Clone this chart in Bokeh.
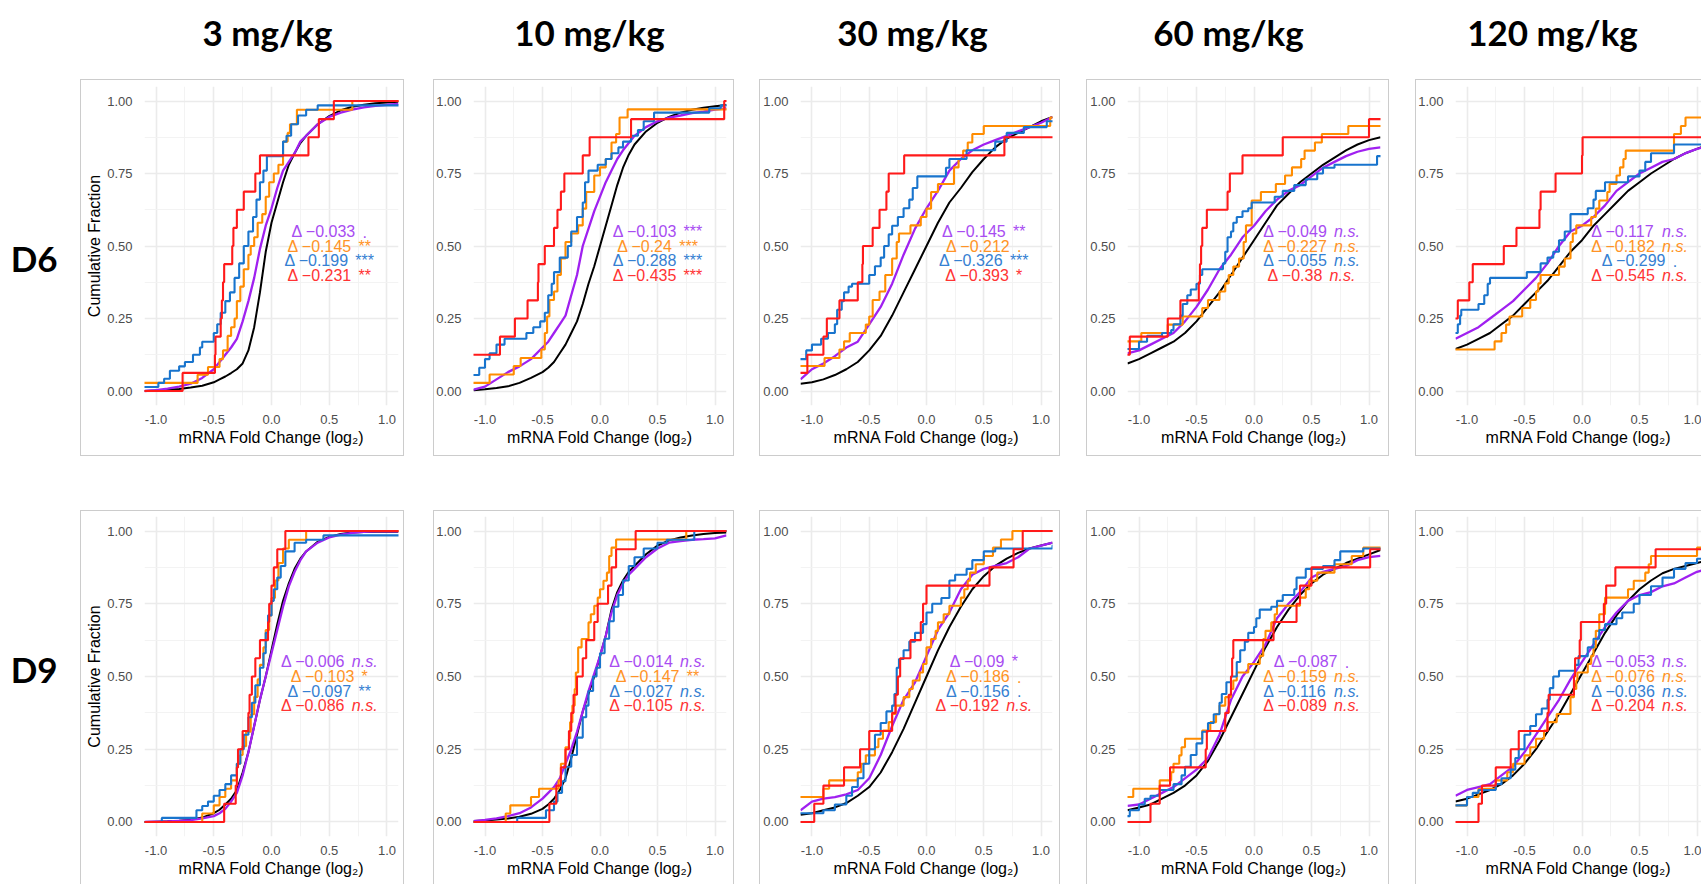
from bokeh.plotting import figure
from bokeh.models import Range1d, FixedTicker, PrintfTickFormatter, ColumnDataSource, Spacer
from bokeh.layouts import row, column
from bokeh.core.properties import value
from bokeh.embed import file_html
from bokeh.resources import INLINE

# ---------------- data ----------------
doses = ["3 mg/kg", "10 mg/kg", "30 mg/kg", "60 mg/kg", "120 mg/kg"]
days = ["D6", "D9"]
x_ticks = [-1.0, -0.5, 0.0, 0.5, 1.0]
y_ticks = [0.0, 0.25, 0.5, 0.75, 1.0]

grid_x = [-1.1, -1.0, -0.9, -0.8, -0.7, -0.6, -0.5, -0.4, -0.3, -0.2, -0.1, 0.0,
          0.1, 0.2, 0.3, 0.4, 0.5, 0.6, 0.7, 0.8, 0.9, 1.0, 1.1]
fine_x = [-1.1, -1.0, -0.9, -0.8, -0.7, -0.6, -0.5, -0.45, -0.4, -0.35, -0.3, -0.25, -0.2, -0.15,
          -0.1, -0.05, 0.0, 0.05, 0.1, 0.15, 0.2, 0.25, 0.3, 0.4, 0.5, 0.6, 0.7, 0.8, 0.9, 1.0, 1.1]

# black: background (all genes); purple: ECDF of the large set
black_d6_3 = [0.0, 0.002, 0.004, 0.007, 0.012, 0.018, 0.03, 0.04, 0.05, 0.062, 0.075, 0.095, 0.14, 0.22, 0.34, 0.48, 0.58, 0.65, 0.72, 0.78, 0.82, 0.855, 0.88, 0.92, 0.948, 0.968, 0.98, 0.987, 0.992, 0.995, 0.997]
purple_d6_3 = [0.0, 0.003, 0.008, 0.015, 0.025, 0.045, 0.075, 0.1, 0.125, 0.15, 0.18, 0.24, 0.31, 0.39, 0.49, 0.57, 0.63, 0.7, 0.76, 0.79, 0.82, 0.86, 0.88, 0.92, 0.945, 0.96, 0.97, 0.978, 0.983, 0.987, 0.99]
black_d6_10 = [0.003, 0.006, 0.01, 0.016, 0.028, 0.045, 0.065, 0.08, 0.1, 0.13, 0.16, 0.2, 0.24, 0.3, 0.37, 0.43, 0.5, 0.57, 0.64, 0.71, 0.77, 0.815, 0.85, 0.895, 0.925, 0.945, 0.96, 0.97, 0.977, 0.982, 0.986]
purple_d6_10 = [0.005, 0.015, 0.04, 0.065, 0.085, 0.11, 0.15, 0.17, 0.2, 0.23, 0.26, 0.33, 0.4, 0.5, 0.56, 0.62, 0.67, 0.72, 0.76, 0.8, 0.83, 0.855, 0.88, 0.91, 0.93, 0.943, 0.95, 0.958, 0.963, 0.97, 0.975]
black_d6_30 = [0.025, 0.03, 0.04, 0.055, 0.075, 0.1, 0.14, 0.19, 0.26, 0.34, 0.42, 0.5, 0.58, 0.65, 0.7, 0.755, 0.8, 0.84, 0.87, 0.89, 0.91, 0.93, 0.945]
purple_d6_30 = [0.04, 0.075, 0.095, 0.12, 0.15, 0.17, 0.23, 0.29, 0.37, 0.47, 0.56, 0.63, 0.69, 0.76, 0.8, 0.83, 0.85, 0.865, 0.88, 0.895, 0.91, 0.925, 0.945]
black_d6_60 = [0.095, 0.11, 0.13, 0.15, 0.17, 0.2, 0.24, 0.29, 0.34, 0.4, 0.46, 0.52, 0.58, 0.64, 0.68, 0.72, 0.75, 0.78, 0.805, 0.83, 0.85, 0.865, 0.875]
purple_d6_60 = [0.13, 0.14, 0.16, 0.18, 0.2, 0.24, 0.29, 0.35, 0.42, 0.47, 0.53, 0.57, 0.62, 0.66, 0.69, 0.71, 0.74, 0.77, 0.79, 0.81, 0.825, 0.835, 0.84]
black_d6_120 = [0.145, 0.16, 0.18, 0.2, 0.23, 0.26, 0.3, 0.34, 0.38, 0.43, 0.48, 0.52, 0.57, 0.61, 0.65, 0.69, 0.72, 0.75, 0.775, 0.8, 0.82, 0.835, 0.85]
purple_d6_120 = [0.18, 0.2, 0.22, 0.25, 0.28, 0.31, 0.35, 0.39, 0.44, 0.5, 0.55, 0.57, 0.6, 0.64, 0.69, 0.72, 0.75, 0.77, 0.79, 0.8, 0.82, 0.835, 0.845]
black_d9_3 = [0.0, 0.001, 0.002, 0.004, 0.008, 0.015, 0.03, 0.042, 0.06, 0.08, 0.11, 0.17, 0.24, 0.33, 0.42, 0.5, 0.59, 0.68, 0.76, 0.82, 0.87, 0.905, 0.93, 0.963, 0.98, 0.99, 0.995, 0.997, 0.998, 0.998, 0.998]
purple_d9_3 = [0.0, 0.001, 0.002, 0.004, 0.006, 0.012, 0.02, 0.03, 0.045, 0.07, 0.1, 0.16, 0.24, 0.33, 0.42, 0.5, 0.58, 0.66, 0.74, 0.81, 0.86, 0.9, 0.93, 0.96, 0.978, 0.988, 0.994, 0.997, 0.999, 0.999, 0.999]
black_d9_10 = [0.003, 0.005, 0.008, 0.012, 0.018, 0.028, 0.045, 0.06, 0.08, 0.11, 0.15, 0.22, 0.3, 0.38, 0.44, 0.5, 0.57, 0.64, 0.73, 0.79, 0.83, 0.86, 0.88, 0.92, 0.95, 0.968, 0.978, 0.985, 0.99, 0.993, 0.995]
purple_d9_10 = [0.003, 0.007, 0.012, 0.02, 0.03, 0.05, 0.08, 0.1, 0.12, 0.15, 0.2, 0.25, 0.31, 0.38, 0.45, 0.51, 0.57, 0.64, 0.72, 0.78, 0.82, 0.85, 0.87, 0.91, 0.94, 0.96, 0.965, 0.97, 0.972, 0.975, 0.985]
black_d9_30 = [0.025, 0.03, 0.04, 0.05, 0.065, 0.09, 0.12, 0.17, 0.24, 0.32, 0.41, 0.5, 0.59, 0.67, 0.74, 0.8, 0.845, 0.88, 0.905, 0.925, 0.94, 0.95, 0.96]
purple_d9_30 = [0.04, 0.07, 0.08, 0.085, 0.095, 0.11, 0.15, 0.23, 0.33, 0.42, 0.48, 0.57, 0.66, 0.72, 0.8, 0.85, 0.87, 0.88, 0.89, 0.91, 0.94, 0.95, 0.96]
black_d9_60 = [0.04, 0.05, 0.06, 0.08, 0.1, 0.125, 0.16, 0.21, 0.28, 0.36, 0.44, 0.52, 0.6, 0.67, 0.73, 0.78, 0.82, 0.85, 0.87, 0.89, 0.905, 0.92, 0.935]
purple_d9_60 = [0.055, 0.06, 0.08, 0.1, 0.12, 0.15, 0.18, 0.22, 0.3, 0.42, 0.5, 0.55, 0.61, 0.7, 0.75, 0.79, 0.84, 0.86, 0.87, 0.88, 0.9, 0.91, 0.915]
black_d9_120 = [0.07, 0.08, 0.095, 0.11, 0.13, 0.16, 0.2, 0.25, 0.31, 0.37, 0.44, 0.51, 0.58, 0.65, 0.71, 0.76, 0.8, 0.83, 0.855, 0.87, 0.88, 0.89, 0.9]
purple_d9_120 = [0.09, 0.11, 0.12, 0.13, 0.16, 0.19, 0.24, 0.3, 0.36, 0.42, 0.49, 0.55, 0.61, 0.67, 0.72, 0.76, 0.78, 0.79, 0.81, 0.82, 0.84, 0.86, 0.87]

# step ECDFs: (x of jump, level after the jump); first entry = level at left edge
red_d6_3 = [(-1.1, 0.0), (-0.77, 0.0625), (-0.49, 0.125), (-0.485, 0.1875), (-0.44, 0.25), (-0.43, 0.3125), (-0.42, 0.375), (-0.41, 0.4375), (-0.34, 0.5), (-0.33, 0.5625), (-0.3, 0.625), (-0.24, 0.6875), (-0.14, 0.75), (-0.1, 0.8125), (0.32, 0.875), (0.41, 0.9375), (0.54, 1.0)]
orange_d6_3 = [(-1.1, 0.028), (-0.64, 0.056), (-0.55, 0.083), (-0.45, 0.11), (-0.42, 0.14), (-0.38, 0.19), (-0.35, 0.22), (-0.32, 0.25), (-0.3, 0.31), (-0.27, 0.36), (-0.24, 0.42), (-0.2, 0.47), (-0.18, 0.5), (-0.15, 0.53), (-0.12, 0.58), (-0.08, 0.61), (-0.05, 0.67), (-0.02, 0.72), (0.02, 0.75), (0.06, 0.78), (0.1, 0.86), (0.14, 0.89), (0.16, 0.92), (0.22, 0.97), (0.7, 1.0)]
blue_d6_3 = [(-1.1, 0.014), (-0.98, 0.028), (-0.93, 0.042), (-0.88, 0.07), (-0.8, 0.085), (-0.75, 0.1), (-0.68, 0.125), (-0.62, 0.15), (-0.6, 0.17), (-0.5, 0.2), (-0.47, 0.23), (-0.44, 0.27), (-0.4, 0.31), (-0.36, 0.34), (-0.32, 0.39), (-0.28, 0.44), (-0.24, 0.5), (-0.2, 0.55), (-0.16, 0.6), (-0.13, 0.66), (-0.1, 0.72), (-0.07, 0.76), (-0.04, 0.81), (0.1, 0.86), (0.13, 0.88), (0.17, 0.92), (0.23, 0.95), (0.3, 0.97), (0.4, 0.985)]

red_d6_10 = [(-1.1, 0.125), (-0.87, 0.1875), (-0.74, 0.25), (-0.63, 0.3125), (-0.54, 0.375), (-0.535, 0.4375), (-0.48, 0.5), (-0.4, 0.5625), (-0.37, 0.625), (-0.34, 0.6875), (-0.31, 0.75), (-0.15, 0.8125), (-0.09, 0.875), (0.27, 0.9375), (1.08, 1.0)]
orange_d6_10 = [(-1.1, 0.028), (-0.96, 0.057), (-0.75, 0.086), (-0.69, 0.114), (-0.51, 0.143), (-0.48, 0.2), (-0.46, 0.257), (-0.44, 0.314), (-0.4, 0.343), (-0.37, 0.4), (-0.34, 0.457), (-0.3, 0.514), (-0.25, 0.543), (-0.19, 0.571), (-0.15, 0.629), (-0.12, 0.686), (-0.05, 0.743), (0.0, 0.771), (0.05, 0.8), (0.1, 0.857), (0.14, 0.886), (0.17, 0.943), (0.24, 0.971)]
blue_d6_10 = [(-1.1, 0.055), (-1.05, 0.08), (-1.0, 0.11), (-0.96, 0.13), (-0.9, 0.16), (-0.83, 0.18), (-0.64, 0.2), (-0.58, 0.22), (-0.52, 0.24), (-0.48, 0.27), (-0.45, 0.33), (-0.42, 0.37), (-0.4, 0.41), (-0.35, 0.46), (-0.28, 0.5), (-0.25, 0.55), (-0.2, 0.6), (-0.15, 0.65), (-0.13, 0.72), (-0.1, 0.76), (-0.02, 0.78), (0.05, 0.8), (0.1, 0.82), (0.16, 0.84), (0.2, 0.86), (0.27, 0.88), (0.33, 0.9), (0.38, 0.93), (0.47, 0.96), (0.95, 0.975), (1.05, 0.985)]

red_d6_30 = [(-1.1, 0.0625), (-1.04, 0.125), (-0.9, 0.1875), (-0.87, 0.25), (-0.76, 0.3125), (-0.6, 0.375), (-0.56, 0.4375), (-0.555, 0.5), (-0.47, 0.5625), (-0.41, 0.625), (-0.35, 0.6875), (-0.33, 0.75), (-0.195, 0.8125), (0.68, 0.875)]
orange_d6_30 = [(-1.1, 0.086), (-0.89, 0.114), (-0.76, 0.143), (-0.72, 0.171), (-0.67, 0.2), (-0.53, 0.229), (-0.5, 0.257), (-0.47, 0.314), (-0.41, 0.343), (-0.36, 0.4), (-0.3, 0.457), (-0.26, 0.514), (-0.24, 0.543), (-0.14, 0.571), (-0.05, 0.6), (0.0, 0.629), (0.04, 0.686), (0.1, 0.714), (0.24, 0.771), (0.28, 0.8), (0.32, 0.829), (0.36, 0.857), (0.4, 0.886), (0.5, 0.914), (1.08, 0.943)]
blue_d6_30 = [(-1.1, 0.11), (-1.05, 0.14), (-1.0, 0.16), (-0.92, 0.18), (-0.86, 0.2), (-0.8, 0.23), (-0.78, 0.28), (-0.74, 0.31), (-0.72, 0.34), (-0.68, 0.36), (-0.65, 0.37), (-0.5, 0.4), (-0.45, 0.43), (-0.4, 0.46), (-0.37, 0.5), (-0.33, 0.54), (-0.3, 0.57), (-0.25, 0.6), (-0.2, 0.63), (-0.15, 0.66), (-0.12, 0.7), (-0.08, 0.74), (0.17, 0.77), (0.2, 0.8), (0.35, 0.83), (0.6, 0.86), (0.7, 0.89), (0.85, 0.91), (1.05, 0.93)]

red_d6_60 = [(-1.1, 0.125), (-1.08, 0.1875), (-0.75, 0.25), (-0.64, 0.3125), (-0.48, 0.375), (-0.47, 0.4375), (-0.46, 0.5), (-0.45, 0.5625), (-0.41, 0.625), (-0.23, 0.6875), (-0.21, 0.75), (-0.1, 0.8125), (0.25, 0.875), (1.0, 0.9375)]
orange_d6_60 = [(-1.1, 0.171), (-0.98, 0.2), (-0.75, 0.229), (-0.62, 0.257), (-0.45, 0.286), (-0.4, 0.314), (-0.3, 0.343), (-0.25, 0.371), (-0.22, 0.4), (-0.18, 0.429), (-0.13, 0.457), (-0.09, 0.514), (-0.07, 0.571), (-0.02, 0.657), (0.06, 0.686), (0.19, 0.714), (0.27, 0.743), (0.33, 0.771), (0.41, 0.8), (0.44, 0.829), (0.53, 0.857), (0.59, 0.886), (0.82, 0.914)]
blue_d6_60 = [(-1.1, 0.145), (-1.0, 0.17), (-0.93, 0.19), (-0.8, 0.2), (-0.72, 0.21), (-0.7, 0.23), (-0.64, 0.26), (-0.62, 0.3), (-0.58, 0.33), (-0.55, 0.35), (-0.5, 0.37), (-0.47, 0.4), (-0.45, 0.42), (-0.27, 0.44), (-0.25, 0.48), (-0.23, 0.53), (-0.2, 0.55), (-0.18, 0.58), (-0.15, 0.6), (-0.1, 0.62), (-0.05, 0.63), (-0.02, 0.65), (0.18, 0.67), (0.25, 0.69), (0.35, 0.71), (0.45, 0.73), (0.55, 0.75), (0.6, 0.77), (0.7, 0.78), (1.07, 0.81)]

red_d6_120 = [(-1.1, 0.25), (-1.08, 0.3125), (-0.98, 0.375), (-0.95, 0.4375), (-0.68, 0.5), (-0.57, 0.5625), (-0.37, 0.625), (-0.36, 0.6875), (-0.23, 0.75), (0.0, 0.8125), (0.005, 0.875)]
orange_d6_120 = [(-1.1, 0.143), (-0.76, 0.171), (-0.7, 0.2), (-0.66, 0.229), (-0.63, 0.257), (-0.52, 0.286), (-0.45, 0.314), (-0.4, 0.343), (-0.38, 0.371), (-0.36, 0.4), (-0.2, 0.429), (-0.15, 0.457), (-0.1, 0.514), (-0.08, 0.543), (-0.05, 0.571), (0.08, 0.6), (0.12, 0.629), (0.15, 0.657), (0.22, 0.686), (0.24, 0.714), (0.3, 0.743), (0.33, 0.771), (0.36, 0.8), (0.38, 0.829), (0.8, 0.886), (0.86, 0.914), (0.9, 0.943)]
blue_d6_120 = [(-1.1, 0.2), (-1.08, 0.23), (-1.06, 0.26), (-1.05, 0.28), (-0.9, 0.3), (-0.85, 0.33), (-0.82, 0.37), (-0.8, 0.39), (-0.48, 0.41), (-0.36, 0.44), (-0.3, 0.46), (-0.25, 0.48), (-0.2, 0.52), (-0.15, 0.55), (-0.1, 0.61), (0.05, 0.63), (0.1, 0.66), (0.12, 0.69), (0.2, 0.72), (0.4, 0.74), (0.5, 0.76), (0.55, 0.79), (0.6, 0.82), (0.8, 0.85)]

red_d9_3 = [(-1.1, 0.0), (-0.41, 0.0625), (-0.31, 0.125), (-0.3, 0.1875), (-0.29, 0.25), (-0.25, 0.3125), (-0.2, 0.375), (-0.19, 0.4375), (-0.17, 0.5), (-0.14, 0.5625), (-0.1, 0.625), (-0.03, 0.6875), (-0.02, 0.75), (0.0, 0.8125), (0.02, 0.875), (0.05, 0.9375), (0.12, 1.0)]
orange_d9_3 = [(-1.1, 0.0), (-0.6, 0.029), (-0.5, 0.057), (-0.45, 0.086), (-0.4, 0.114), (-0.35, 0.143), (-0.3, 0.2), (-0.27, 0.23), (-0.25, 0.26), (-0.22, 0.31), (-0.18, 0.37), (-0.15, 0.43), (-0.12, 0.49), (-0.1, 0.54), (-0.07, 0.6), (-0.05, 0.66), (-0.02, 0.71), (0.0, 0.77), (0.03, 0.83), (0.06, 0.89), (0.1, 0.94), (0.15, 0.97), (0.3, 1.0)]
blue_d9_3 = [(-1.1, 0.0), (-0.95, 0.014), (-0.65, 0.04), (-0.6, 0.055), (-0.55, 0.07), (-0.5, 0.09), (-0.45, 0.11), (-0.4, 0.13), (-0.35, 0.16), (-0.3, 0.2), (-0.27, 0.25), (-0.24, 0.3), (-0.2, 0.36), (-0.17, 0.41), (-0.14, 0.47), (-0.1, 0.53), (-0.07, 0.58), (-0.05, 0.65), (-0.03, 0.71), (0.0, 0.76), (0.02, 0.8), (0.05, 0.84), (0.08, 0.88), (0.12, 0.93), (0.2, 0.96), (0.3, 0.97), (0.45, 0.985)]

red_d9_10 = [(-1.1, 0.0), (-0.44, 0.0625), (-0.38, 0.125), (-0.34, 0.1875), (-0.3, 0.25), (-0.27, 0.3125), (-0.25, 0.375), (-0.23, 0.4375), (-0.2, 0.5), (-0.15, 0.5625), (-0.12, 0.625), (-0.05, 0.6875), (-0.02, 0.75), (0.07, 0.8125), (0.1, 0.875), (0.14, 0.9375), (0.31, 1.0)]
orange_d9_10 = [(-1.1, 0.0), (-0.82, 0.029), (-0.78, 0.057), (-0.6, 0.086), (-0.53, 0.114), (-0.36, 0.143), (-0.34, 0.2), (-0.3, 0.257), (-0.27, 0.286), (-0.26, 0.343), (-0.24, 0.4), (-0.22, 0.457), (-0.21, 0.514), (-0.19, 0.6), (-0.16, 0.629), (-0.1, 0.686), (-0.08, 0.714), (-0.05, 0.743), (-0.02, 0.771), (0.0, 0.8), (0.03, 0.829), (0.06, 0.857), (0.08, 0.914), (0.1, 0.943), (0.14, 0.971), (0.75, 1.0)]
blue_d9_10 = [(-1.1, 0.0), (-0.72, 0.014), (-0.47, 0.04), (-0.4, 0.07), (-0.37, 0.1), (-0.33, 0.14), (-0.3, 0.19), (-0.25, 0.23), (-0.2, 0.29), (-0.15, 0.36), (-0.12, 0.4), (-0.1, 0.45), (-0.06, 0.5), (-0.03, 0.53), (0.0, 0.58), (0.04, 0.63), (0.08, 0.69), (0.12, 0.74), (0.16, 0.78), (0.2, 0.83), (0.25, 0.88), (0.3, 0.91), (0.38, 0.94), (0.5, 0.96), (0.58, 0.97), (0.82, 1.0)]

red_d9_30 = [(-1.1, 0.0), (-0.98, 0.0625), (-0.9, 0.125), (-0.72, 0.1875), (-0.58, 0.25), (-0.5, 0.3125), (-0.3, 0.375), (-0.27, 0.4375), (-0.25, 0.5), (-0.23, 0.5625), (-0.14, 0.625), (-0.05, 0.6875), (-0.03, 0.75), (0.0, 0.8125), (0.55, 0.875), (0.76, 0.9375), (0.84, 1.0)]
orange_d9_30 = [(-1.1, 0.086), (-0.9, 0.114), (-0.85, 0.143), (-0.6, 0.171), (-0.57, 0.2), (-0.53, 0.229), (-0.45, 0.257), (-0.42, 0.286), (-0.38, 0.314), (-0.33, 0.343), (-0.3, 0.371), (-0.27, 0.4), (-0.2, 0.429), (-0.15, 0.457), (-0.12, 0.486), (-0.06, 0.514), (-0.03, 0.543), (0.0, 0.6), (0.04, 0.629), (0.08, 0.657), (0.1, 0.686), (0.15, 0.714), (0.2, 0.743), (0.3, 0.771), (0.33, 0.8), (0.36, 0.829), (0.38, 0.857), (0.43, 0.886), (0.5, 0.914), (0.58, 0.943), (0.65, 0.971), (0.75, 1.0)]
blue_d9_30 = [(-1.1, 0.03), (-0.9, 0.04), (-0.8, 0.06), (-0.7, 0.09), (-0.65, 0.12), (-0.6, 0.15), (-0.55, 0.2), (-0.5, 0.25), (-0.45, 0.3), (-0.4, 0.34), (-0.35, 0.38), (-0.3, 0.4), (-0.28, 0.44), (-0.26, 0.53), (-0.24, 0.56), (-0.2, 0.59), (-0.15, 0.62), (-0.1, 0.65), (-0.03, 0.68), (0.0, 0.72), (0.05, 0.75), (0.13, 0.77), (0.2, 0.83), (0.25, 0.85), (0.35, 0.87), (0.4, 0.9), (0.5, 0.93), (0.6, 0.94), (1.1, 0.95)]

red_d9_60 = [(-1.1, 0.0), (-0.9, 0.0625), (-0.82, 0.125), (-0.73, 0.1875), (-0.42, 0.25), (-0.41, 0.3125), (-0.25, 0.375), (-0.22, 0.4375), (-0.2, 0.5), (-0.19, 0.5625), (-0.18, 0.625), (0.17, 0.6875), (0.37, 0.75), (0.4, 0.8125), (0.5, 0.875), (1.01, 0.9375)]
orange_d9_60 = [(-1.1, 0.086), (-1.05, 0.114), (-0.82, 0.143), (-0.72, 0.171), (-0.7, 0.2), (-0.65, 0.229), (-0.63, 0.257), (-0.6, 0.286), (-0.45, 0.314), (-0.38, 0.343), (-0.33, 0.371), (-0.3, 0.4), (-0.25, 0.429), (-0.2, 0.457), (-0.18, 0.486), (-0.15, 0.514), (-0.05, 0.543), (0.05, 0.571), (0.08, 0.629), (0.1, 0.657), (0.15, 0.686), (0.18, 0.714), (0.2, 0.743), (0.4, 0.771), (0.45, 0.8), (0.48, 0.829), (0.55, 0.857), (0.7, 0.886), (0.85, 0.914), (0.95, 0.943)]
blue_d9_60 = [(-1.1, 0.02), (-1.08, 0.04), (-1.0, 0.06), (-0.95, 0.08), (-0.9, 0.09), (-0.82, 0.11), (-0.7, 0.13), (-0.63, 0.16), (-0.6, 0.19), (-0.55, 0.23), (-0.5, 0.27), (-0.45, 0.31), (-0.4, 0.34), (-0.35, 0.37), (-0.3, 0.41), (-0.28, 0.44), (-0.24, 0.48), (-0.2, 0.5), (-0.15, 0.55), (-0.12, 0.59), (-0.08, 0.62), (-0.05, 0.65), (0.0, 0.67), (0.02, 0.7), (0.05, 0.73), (0.15, 0.74), (0.2, 0.76), (0.25, 0.78), (0.35, 0.8), (0.37, 0.84), (0.45, 0.87), (0.6, 0.88), (0.7, 0.9), (0.75, 0.93), (0.95, 0.94)]

red_d9_120 = [(-1.1, 0.0), (-0.9, 0.0625), (-0.87, 0.125), (-0.75, 0.1875), (-0.62, 0.25), (-0.55, 0.3125), (-0.3, 0.375), (-0.29, 0.4375), (-0.07, 0.5), (-0.06, 0.5625), (-0.02, 0.625), (-0.01, 0.6875), (0.19, 0.75), (0.21, 0.8125), (0.29, 0.875), (0.64, 0.9375)]
orange_d9_120 = [(-1.1, 0.057), (-1.0, 0.086), (-0.9, 0.114), (-0.75, 0.143), (-0.65, 0.171), (-0.6, 0.2), (-0.5, 0.229), (-0.45, 0.257), (-0.4, 0.286), (-0.33, 0.314), (-0.3, 0.343), (-0.22, 0.371), (-0.1, 0.429), (-0.07, 0.457), (-0.05, 0.486), (-0.04, 0.514), (0.05, 0.543), (0.08, 0.571), (0.1, 0.6), (0.12, 0.657), (0.15, 0.714), (0.2, 0.771), (0.4, 0.8), (0.45, 0.829), (0.55, 0.857), (0.58, 0.886), (0.6, 0.914), (1.0, 0.943)]
blue_d9_120 = [(-1.1, 0.057), (-1.0, 0.086), (-0.95, 0.1), (-0.9, 0.11), (-0.75, 0.13), (-0.7, 0.15), (-0.62, 0.18), (-0.58, 0.22), (-0.55, 0.25), (-0.5, 0.3), (-0.45, 0.33), (-0.4, 0.37), (-0.35, 0.39), (-0.3, 0.42), (-0.28, 0.46), (-0.25, 0.5), (-0.2, 0.52), (-0.06, 0.54), (-0.03, 0.57), (0.05, 0.6), (0.1, 0.63), (0.15, 0.66), (0.2, 0.68), (0.3, 0.7), (0.35, 0.72), (0.45, 0.75), (0.5, 0.78), (0.6, 0.81), (0.7, 0.84), (0.8, 0.87), (0.9, 0.89), (1.0, 0.905)]

# annotations: (delta, significance) for purple, orange, blue, red
ann_d6_3 = [("−0.033", "."), ("−0.145", "**"), ("−0.199", "***"), ("−0.231", "**")]
ann_d6_10 = [("−0.103", "***"), ("−0.24", "***"), ("−0.288", "***"), ("−0.435", "***")]
ann_d6_30 = [("−0.145", "**"), ("−0.212", "."), ("−0.326", "***"), ("−0.393", "*")]
ann_d6_60 = [("−0.049", "n.s."), ("−0.227", "n.s."), ("−0.055", "n.s."), ("−0.38", "n.s.")]
ann_d6_120 = [("−0.117", "n.s."), ("−0.182", "n.s."), ("−0.299", "."), ("−0.545", "n.s.")]
ann_d9_3 = [("−0.006", "n.s."), ("−0.103", "*"), ("−0.097", "**"), ("−0.086", "n.s.")]
ann_d9_10 = [("−0.014", "n.s."), ("−0.147", "**"), ("−0.027", "n.s."), ("−0.105", "n.s.")]
ann_d9_30 = [("−0.09", "*"), ("−0.186", "."), ("−0.156", "."), ("−0.192", "n.s.")]
ann_d9_60 = [("−0.087", "."), ("−0.159", "n.s."), ("−0.116", "n.s."), ("−0.089", "n.s.")]
ann_d9_120 = [("−0.053", "n.s."), ("−0.076", "n.s."), ("−0.036", "n.s."), ("−0.204", "n.s.")]

# ---------------- assembly ----------------
PURPLE, ORANGE, BLUE, RED, BLACK = "#A020F0", "#FF8C00", "#1874CD", "#FF1A1A", "#000000"
TEXT_COLORS = ["#A84CF2", "#FF9326", "#3580D2", "#FF3333"]
panels = {
    ("D6", 0): (fine_x, black_d6_3, purple_d6_3, orange_d6_3, blue_d6_3, red_d6_3, ann_d6_3),
    ("D6", 1): (fine_x, black_d6_10, purple_d6_10, orange_d6_10, blue_d6_10, red_d6_10, ann_d6_10),
    ("D6", 2): (grid_x, black_d6_30, purple_d6_30, orange_d6_30, blue_d6_30, red_d6_30, ann_d6_30),
    ("D6", 3): (grid_x, black_d6_60, purple_d6_60, orange_d6_60, blue_d6_60, red_d6_60, ann_d6_60),
    ("D6", 4): (grid_x, black_d6_120, purple_d6_120, orange_d6_120, blue_d6_120, red_d6_120, ann_d6_120),
    ("D9", 0): (fine_x, black_d9_3, purple_d9_3, orange_d9_3, blue_d9_3, red_d9_3, ann_d9_3),
    ("D9", 1): (fine_x, black_d9_10, purple_d9_10, orange_d9_10, blue_d9_10, red_d9_10, ann_d9_10),
    ("D9", 2): (grid_x, black_d9_30, purple_d9_30, orange_d9_30, blue_d9_30, red_d9_30, ann_d9_30),
    ("D9", 3): (grid_x, black_d9_60, purple_d9_60, orange_d9_60, blue_d9_60, red_d9_60, ann_d9_60),
    ("D9", 4): (grid_x, black_d9_120, purple_d9_120, orange_d9_120, blue_d9_120, red_d9_120, ann_d9_120),
}

# layout (pixels)
LABEL_W = 80
BOX_W = [324, 301, 301, 303, 286]
GAPS = [29, 25, 26, 26]
ML = [64, 40, 41, 41, 40]
MR = [6, 8, 8, 9, 0]
ROW_H = {"D6": 377, "D9": 374}
MT = {"D6": 7, "D9": 6}
MB = {"D6": 51, "D9": 48}
HEADER_H = 79
ROW_GAP = 54
XMAX = [1.1, 1.1, 1.1, 1.1, 1.039]
TITLE_X = [267, 589, 912, 1228, 1552]
TITLE_BASE = 31
LABEL_BASE = {"D6": 203, "D9": 178}
ANN_Y = [0.55, 0.50, 0.45, 0.40]
BORDER = "#CCCCCC"

CW = {'Δ': 0.668, ' ': 0.278, '−': 0.584, '.': 0.278, 'n': 0.556, 's': 0.5, '*': 0.389}
def tw(s, size):
    return sum(CW.get(c, 0.556) for c in s) * size

MAIN_FS = 16

def step_xy(pts):
    xs = [-1.3] + [p[0] for p in pts] + [1.3]
    ys = [pts[0][1]] + [p[1] for p in pts] + [pts[-1][1]]
    return xs, ys

def border_style(day, ci):
    c = BORDER
    if day == "D6" and ci < 4:
        sh = f"inset 0 0 0 1px {c}"
    elif day == "D6":
        sh = f"inset 1px 1px 0 0 {c}, inset 0 -1px 0 0 {c}"
    elif ci < 4:
        sh = f"inset 1px 1px 0 0 {c}, inset -1px 0 0 0 {c}"
    else:
        sh = f"inset 1px 1px 0 0 {c}"
    return {"box-shadow": sh}

def make_panel(day, ci):
    gx, black, purple, orange, blue, red, ann = panels[(day, ci)]
    W, H = BOX_W[ci], ROW_H[day]
    p = figure(width=W, height=H, x_range=Range1d(-1.1, XMAX[ci]), y_range=Range1d(-0.05, 1.05),
               output_backend="svg", toolbar_location=None,
               min_border_left=ML[ci], min_border_right=MR[ci],
               min_border_top=MT[day], min_border_bottom=MB[day],
               styles=border_style(day, ci))
    p.outline_line_color = None
    p.background_fill_color = None
    p.border_fill_color = None
    p.xaxis.ticker = FixedTicker(ticks=x_ticks, minor_ticks=[-0.75, -0.25, 0.25, 0.75])
    p.yaxis.ticker = FixedTicker(ticks=y_ticks, minor_ticks=[0.125, 0.375, 0.625, 0.875])
    p.xaxis.formatter = PrintfTickFormatter(format="%.1f")
    p.yaxis.formatter = PrintfTickFormatter(format="%.2f")
    for ax in (p.xaxis, p.yaxis):
        ax.axis_line_color = None
        ax.major_tick_line_color = None
        ax.minor_tick_line_color = None
        ax.major_label_text_color = "#4D4D4D"
        ax.major_label_text_font = "Liberation Sans"
        ax.major_label_text_font_size = "13px"
        ax.axis_label_text_font = "Liberation Sans"
        ax.axis_label_text_font_size = "16px"
        ax.axis_label_text_font_style = "normal"
        ax.axis_label_text_color = "#000000"
    p.xaxis.major_label_standoff = 3
    p.yaxis.major_label_standoff = 6
    p.xaxis.axis_label = "mRNA Fold Change (log₂)"
    p.xaxis.axis_label_standoff = 2
    if ci == 0:
        p.yaxis.axis_label = "Cumulative Fraction"
        p.yaxis.axis_label_standoff = 1
    for g in (p.xgrid, p.ygrid):
        g.grid_line_color = "#EBEBEB"
        g.grid_line_width = 1.6
        g.minor_grid_line_color = "#F2F2F2"
        g.minor_grid_line_width = 0.9

    p.line(gx, black, line_color=BLACK, line_width=2.0)
    p.line(gx, purple, line_color=PURPLE, line_width=2.3)
    for pts, col in ((orange, ORANGE), (blue, BLUE), (red, RED)):
        xs, ys = step_xy(pts)
        p.step(xs, ys, mode="after", line_color=col, line_width=2.1)

    # annotations: main text + significance suffix
    main = dict(x=[], y=[], t=[], c=[], xo=[])
    suf = dict(x=[], y=[], t=[], c=[], xo=[], fs=[])
    for (d, sig), yv, col in zip(ann, ANN_Y, TEXT_COLORS):
        mtxt = "Δ " + d
        mw = tw(mtxt, MAIN_FS)
        gap = 0.4 * MAIN_FS
        sw = tw(sig, MAIN_FS)
        total = mw + gap + sw
        main["x"].append(0.5); main["y"].append(yv); main["t"].append(mtxt); main["c"].append(col); main["xo"].append(-total / 2)
        suf["x"].append(0.5); suf["y"].append(yv); suf["t"].append(sig); suf["c"].append(col)
        suf["xo"].append(-total / 2 + mw + gap)
        suf["fs"].append("italic" if sig == "n.s." else "normal")
    p.text(x="x", y="y", text="t", text_color="c", x_offset="xo", source=ColumnDataSource(main),
           text_align="left", text_baseline="middle", text_font=value("Liberation Sans"), text_font_size=f"{MAIN_FS}px")
    p.text(x="x", y="y", text="t", text_color="c", x_offset="xo", source=ColumnDataSource(suf),
           text_align="left", text_baseline="middle", text_font=value("Liberation Sans"),
           text_font_size=f"{MAIN_FS}px", text_font_style="fs")
    return p

def label_fig(day):
    H = ROW_H[day]
    f = figure(width=LABEL_W, height=H, x_range=Range1d(0, LABEL_W), y_range=Range1d(H, 0),
               x_axis_type=None, y_axis_type=None, output_backend="svg", toolbar_location=None, min_border=0)
    f.outline_line_color = None
    f.grid.visible = False
    f.text(x=[LABEL_W * 0.42], y=[LABEL_BASE[day]], text=[day], text_align="center", text_baseline="alphabetic",
           text_font=value("Lato"), text_font_style="bold", text_font_size="35px", text_color="#000000")
    return f

header = figure(width=1701, height=HEADER_H, x_range=Range1d(0, 1701), y_range=Range1d(HEADER_H, 0),
                x_axis_type=None, y_axis_type=None, output_backend="svg", toolbar_location=None, min_border=0)
header.outline_line_color = None
header.grid.visible = False
header.text(x=TITLE_X, y=[TITLE_BASE] * 5, text=doses, text_align="center", text_baseline="alphabetic",
            text_font=value("Lato"), text_font_style="bold", text_font_size="35px", text_color="#000000")

rows = []
for day in days:
    items = [label_fig(day)]
    for ci in range(5):
        items.append(make_panel(day, ci))
        if ci < 4:
            items.append(Spacer(width=GAPS[ci], height=ROW_H[day]))
    rows.append(row(*items, spacing=0))

layout = column(header, rows[0], Spacer(width=1701, height=ROW_GAP), rows[1], spacing=0)

open("out.html", "w").write(file_html(layout, INLINE))
